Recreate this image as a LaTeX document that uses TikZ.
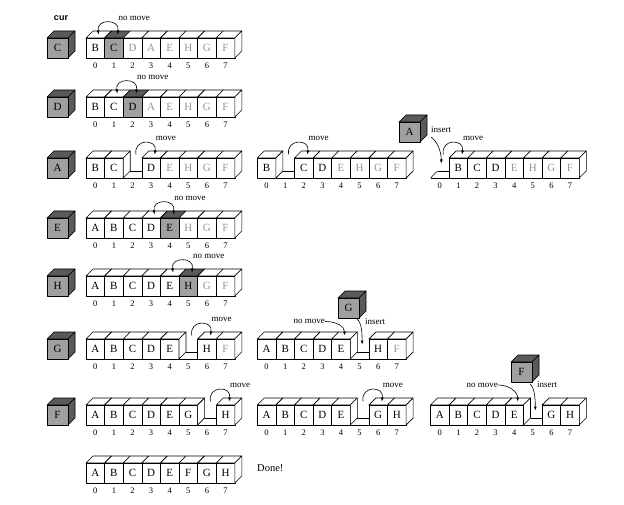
\documentclass[tikz,border=0pt]{standalone}
\usepackage{fontspec}
\setmainfont{Liberation Serif}
\newfontfamily\curfont{Liberation Sans}
\usetikzlibrary{arrows.meta,calc}
\definecolor{cubefront}{RGB}{160,160,160}
\definecolor{cubetop}{RGB}{90,90,90}
\definecolor{txtgray}{RGB}{150,150,150}
\tikzset{
  edge/.style={draw=black,line width=0.6pt,line join=round},
  cellt/.style={inner sep=0pt,font=\fontsize{11}{11}\selectfont},
  idx/.style={inner sep=0pt,font=\fontsize{8.5}{8.5}\selectfont},
  lab/.style={inner sep=0pt,font=\fontsize{9}{9}\selectfont},
  arr/.style={line width=0.6pt,-{Latex[length=4pt,width=3pt]}},
  darr/.style={line width=0.6pt,{Latex[length=4pt,width=3pt]}-{Latex[length=4pt,width=3pt]}},
}
\def\cw{18.6}\def\ch{20}\def\dd{7}\def\cubew{21}
\newcommand\cellrow[4]{%
 \foreach \lt/\ty [count=\i from 0] in {#4} {%
   \pgfmathsetmacro\xx{#2+\i*\cw}%
   \coordinate (#1-\i) at (\xx+\cw/2+\dd/2, #3-\dd/2);
   \node[idx] (#1-n\i) at (\xx+\cw/2, #3+\ch+8) {\i};
   \ifnum\ty=3
     \ifnum\i=0
       \draw[edge] (\xx,#3+\ch) -- ++(\dd,-\dd);
     \else
       \filldraw[edge,fill=white] (\xx,#3) -- ++(\dd,-\dd) -- ++(0,\ch) -- ++(-\dd,\dd) -- cycle;
     \fi
     \draw[edge] (\xx,#3+\ch) -- ++(\cw,0);
     \draw[edge] (\xx+\dd,#3+\ch-\dd) -- (\xx+\cw,#3+\ch-\dd);
   \else
     \ifcase\ty \def\fc{white}\def\tc{white}\def\lc{black}%
     \or \def\fc{white}\def\tc{white}\def\lc{txtgray}%
     \or \def\fc{cubefront}\def\tc{cubetop}\def\lc{black}\fi
     \filldraw[edge,fill=\tc] (\xx,#3) -- ++(\dd,-\dd) -- ++(\cw,0) -- ++(-\dd,\dd) -- cycle;
     \filldraw[edge,fill=\fc] (\xx,#3) rectangle ++(\cw,\ch);
     \node[cellt,text=\lc] (#1-c\i) at (\xx+\cw/2,#3+\ch/2) {\lt};
     \ifnum\i=7
       \filldraw[edge,fill=white] (\xx+\cw,#3) -- ++(\dd,-\dd) -- ++(0,\ch) -- ++(-\dd,\dd) -- cycle;
     \fi
   \fi
 }}
\newcommand\cube[4]{%
  \filldraw[edge,fill=cubetop] (#2,#3) -- ++(\dd,-\dd) -- ++(\cubew,0) -- ++(-\dd,\dd) -- cycle;
  \filldraw[edge,fill=cubetop] (#2+\cubew,#3) -- ++(\dd,-\dd) -- ++(0,\ch) -- ++(-\dd,\dd) -- cycle;
  \filldraw[edge,fill=cubefront] (#2,#3) rectangle ++(\cubew,\ch);
  \node[cellt] (#1) at (#2+\cubew/2,#3+\ch/2) {#4};
}
\newcommand\noarc[3]{% row, from, to
  \draw[darr] (#1-#2) .. controls +(-3,-16) and +(3,-16) .. (#1-#3);
  \node[lab,anchor=west] (#1-lab) at ($(#1-#3)+(1,-16)$) {no move};
}
\newcommand\mvarc[3]{%
  \draw[arr] (#1-#2) .. controls +(-3,-16) and +(3,-16) .. (#1-#3);
  \node[lab,anchor=west] (#1-lab) at ($(#1-#3)+(1,-16)$) {move};
}
\begin{document}
\begin{tikzpicture}[x=1pt,y=-1pt]
\useasboundingbox (0,0) rectangle (624,505);
\node[inner sep=0pt,font=\curfont\bfseries\fontsize{9}{9}\selectfont] (curlab) at (61,18) {cur};
% row 1
\cube{cur1}{47}{38}{C}
\cellrow{r1}{86}{38}{B/0,C/2,D/1,A/1,E/1,H/1,G/1,F/1}
\noarc{r1}{0}{1}
% row 2
\cube{cur2}{47}{97}{D}
\cellrow{r2}{86}{97}{B/0,C/0,D/2,A/1,E/1,H/1,G/1,F/1}
\noarc{r2}{1}{2}
% row 3
\cube{cur3}{47}{158}{A}
\cellrow{r3a}{86}{158}{B/0,C/0,-/3,D/0,E/1,H/1,G/1,F/1}
\mvarc{r3a}{2}{3}
\cellrow{r3b}{257.3}{158}{B/0,-/3,C/0,D/0,E/1,H/1,G/1,F/1}
\mvarc{r3b}{1}{2}
\cube{fly3}{399}{122}{A}
\cellrow{r3c}{430.5}{158}{-/3,B/0,C/0,D/0,E/1,H/1,G/1,F/1}
\mvarc{r3c}{0}{1}
\node[lab,anchor=west] (ins3) at (431,130) {insert};
\coordinate (ins3s) at (431,137);
\draw[arr] (ins3s) .. controls +(6,4) and +(0,-12) .. ($(r3c-0)+(-2,9)$);
% row 4
\cube{cur4}{47}{218}{E}
\cellrow{r4}{86}{218}{A/0,B/0,C/0,D/0,E/2,H/1,G/1,F/1}
\noarc{r4}{3}{4}
% row 5
\cube{cur5}{47}{276}{H}
\cellrow{r5}{86}{276}{A/0,B/0,C/0,D/0,E/0,H/2,G/1,F/1}
\noarc{r5}{4}{5}
% row 6
\cube{cur6}{47}{339}{G}
\cellrow{r6a}{86}{339}{A/0,B/0,C/0,D/0,E/0,-/3,H/0,F/1}
\mvarc{r6a}{5}{6}
\cube{fly6}{338}{298}{G}
\cellrow{r6b}{257.3}{339}{A/0,B/0,C/0,D/0,E/0,-/3,H/0,F/1}
\node[lab,anchor=east] (nm6) at (325,321.5) {no move};
\draw[arr] (nm6.east) .. controls +(12,0) and +(0,-9) .. (r6b-4);
\node[lab,anchor=west] (ins6) at (365,321.5) {insert};
\coordinate (ins6s) at (357,319);
\draw[arr] (ins6s) .. controls +(5,4) and +(0,-10) .. ($(r6b-5)+(-1,9)$);
% row 7
\cube{cur7}{47}{405}{F}
\cellrow{r7a}{86}{405}{A/0,B/0,C/0,D/0,E/0,G/0,-/3,H/0}
\mvarc{r7a}{6}{7}
\cellrow{r7b}{257.3}{405}{A/0,B/0,C/0,D/0,E/0,-/3,G/0,H/0}
\mvarc{r7b}{5}{6}
\cube{fly7}{511}{362}{F}
\cellrow{r7c}{430.5}{405}{A/0,B/0,C/0,D/0,E/0,-/3,G/0,H/0}
\node[lab,anchor=east] (nm7) at (498,385) {no move};
\draw[arr] (nm7.east) .. controls +(12,0) and +(0,-9) .. (r7c-4);
\node[lab,anchor=west] (ins7) at (537,385) {insert};
\coordinate (ins7s) at (530,384);
\draw[arr] (ins7s) .. controls +(5,4) and +(0,-10) .. ($(r7c-5)+(-1,9)$);
% row 8
\cellrow{r8}{86}{463}{A/0,B/0,C/0,D/0,E/0,F/0,G/0,H/0}
\node[inner sep=0pt,anchor=west,font=\fontsize{10.5}{10.5}\selectfont] (done) at (257,468) {Done!};
\end{tikzpicture}
\end{document}
